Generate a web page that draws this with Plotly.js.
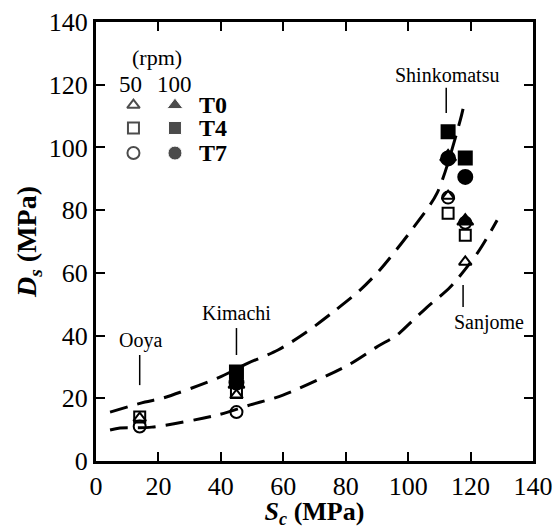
<!DOCTYPE html>
<html><head><meta charset="utf-8">
<script src="https://cdn.plot.ly/plotly-3.0.1.min.js"></script>
<style>html,body{margin:0;padding:0;background:#fff}</style>
</head><body><div id="chart" style="width:557px;height:529px"></div>
<script>
// Measured data (Sc in MPa, Ds in MPa)
const t0_50_x = [14, 45, 112.8, 118.3];
const t0_50_y = [13.7, 21, 84.5, 63.5];
const t0_100_x = [45, 112.8, 118.3];
const t0_100_y = [24.5, 97, 76.5];
const t4_50_x = [14, 45, 112.8, 118.3];
const t4_50_y = [14, 22, 79, 72];
const t4_100_x = [45, 112.8, 118.3];
const t4_100_y = [28.4, 105, 96.6];
const t7_50_x = [14, 45, 112.8, 118.3];
const t7_50_y = [11, 15.6, 84, 76];
const t7_100_x = [45, 112.8, 118.3];
const t7_100_y = [25, 96.5, 90.6];

// Dashed envelope curves
const upperX = [4.5, 15.7, 21.5, 39.1, 48.7, 58.3, 67, 76.6, 84.6, 91, 101.6, 109.3, 116.7, 118.3];
const upperY = [15.6, 18.8, 20.1, 26.5, 31.2, 35.4, 40.8, 48, 54.5, 61, 74.3, 85.5, 108.7, 115.5];
const lowerX = [4.5, 7.7, 17.9, 39.1, 49.4, 59.9, 80.8, 90, 96.5, 100, 106, 113.5, 122.4, 128.5];
const lowerY = [9.9, 10.5, 10.8, 14.7, 17.9, 21, 30.6, 36.4, 40.2, 43.4, 49, 55.5, 66.6, 76.8];

// Site labels
const siteNames = ['Ooya', 'Kimachi', 'Shinkomatsu', 'Sanjome'];
const siteLabelX = [14.3, 45, 112.5, 125.8];
const siteLabelY = [38.3, 47.3, 123, 44.3];
const siteLineX = [[14, 14], [45, 45], [112.2, 112.2], [117.6, 117.6]];
const siteLineY = [[24.2, 33.8], [33.8, 42.4], [111, 119], [49.1, 56.1]];

// Inset legend
const legendRows = ['T0', 'T4', 'T7'];
const legendRowY = [113.5, 106.2, 98.2];
const legendSpeeds = ['50', '100'];

const font = 'Liberation Serif';
const traces = [];

traces.push({x: upperX, y: upperY, mode: 'lines', line: {color: '#000', width: 3, dash: '18px,10px', shape: 'spline', smoothing: 0.8}, showlegend: false, hoverinfo: 'skip'});
traces.push({x: lowerX, y: lowerY, mode: 'lines', line: {color: '#000', width: 3, dash: '18px,10px', shape: 'spline', smoothing: 0.8}, showlegend: false, hoverinfo: 'skip'});

siteLineX.forEach((lx, i) => {
  traces.push({x: lx, y: siteLineY[i], mode: 'lines', line: {color: '#000', width: 1.5}, showlegend: false, hoverinfo: 'skip'});
});

const openLine = {color: '#000', width: 2};
function mk(x, y, symbol, size) {
  return {x: x, y: y, mode: 'markers', showlegend: false,
    marker: {symbol: symbol, size: size, color: '#000', line: openLine}};
}
traces.push(mk(t4_50_x, t4_50_y, 'square-open', 11));
traces.push(mk(t7_50_x, t7_50_y, 'circle-open', 12));
traces.push(mk(t0_50_x, t0_50_y, 'triangle-up-open', 11));
traces.push(mk(t4_100_x, t4_100_y, 'square', 13));
traces.push(mk(t7_100_x, t7_100_y, 'circle', 14));
traces.push(mk(t0_100_x, t0_100_y, 'triangle-up', 14));

// legend markers
const legX50 = [12, 12, 12];
const legX100 = [25.3, 25.3, 25.3];
traces.push({x: legX50, y: legendRowY, mode: 'markers', showlegend: false,
  marker: {symbol: ['triangle-up-open', 'square-open', 'circle-open'], size: [11, 11, 12], color: '#000', line: openLine}});
traces.push({x: legX100, y: legendRowY, mode: 'markers', showlegend: false,
  marker: {symbol: ['triangle-up', 'square', 'circle'], size: [14, 13, 14], color: '#000'}});

const annotations = [];
siteNames.forEach((n, i) => {
  annotations.push({x: siteLabelX[i], y: siteLabelY[i], text: n, showarrow: false,
    font: {family: font, size: 20, color: '#000'}, xanchor: 'center', yanchor: 'middle'});
});
annotations.push({x: 19.5, y: 128.8, text: '(rpm)', showarrow: false, font: {family: font, size: 22, color: '#000'}});
annotations.push({x: 10.9, y: 120, text: legendSpeeds[0], showarrow: false, font: {family: font, size: 23, color: '#000'}});
annotations.push({x: 25.3, y: 120, text: legendSpeeds[1], showarrow: false, font: {family: font, size: 23, color: '#000'}});
legendRows.forEach((r, i) => {
  annotations.push({x: 32.4, y: legendRowY[i], text: '<b>' + r + '</b>', showarrow: false, xanchor: 'left',
    font: {family: font, size: 24, color: '#000'}});
});

const axisCommon = {
  range: [0, 140], dtick: 20, tick0: 0, ticks: 'inside', ticklen: 9, tickwidth: 2, tickcolor: '#000',
  showline: true, linecolor: '#000', linewidth: 3, mirror: 'ticks', showgrid: false, zeroline: false,
  tickfont: {family: font, size: 26, color: '#000'}, fixedrange: true
};

const layout = {
  width: 557, height: 529,
  margin: {l: 96, r: 24, t: 22, b: 68},
  paper_bgcolor: '#fff', plot_bgcolor: '#fff',
  xaxis: Object.assign({}, axisCommon, {
    title: {text: '<b><i>S</i><sub><i>c</i></sub> (MPa)</b>', font: {family: font, size: 26, color: '#000'}, standoff: 6}
  }),
  yaxis: Object.assign({}, axisCommon, {
    title: {text: '<b><i>D</i><sub><i>s</i></sub> (MPa)</b>', font: {family: font, size: 28, color: '#000'}, standoff: 4}
  }),
  annotations: annotations,
  showlegend: false
};

Plotly.newPlot('chart', traces, layout, {displayModeBar: false, staticPlot: true});
</script>
</body></html>
